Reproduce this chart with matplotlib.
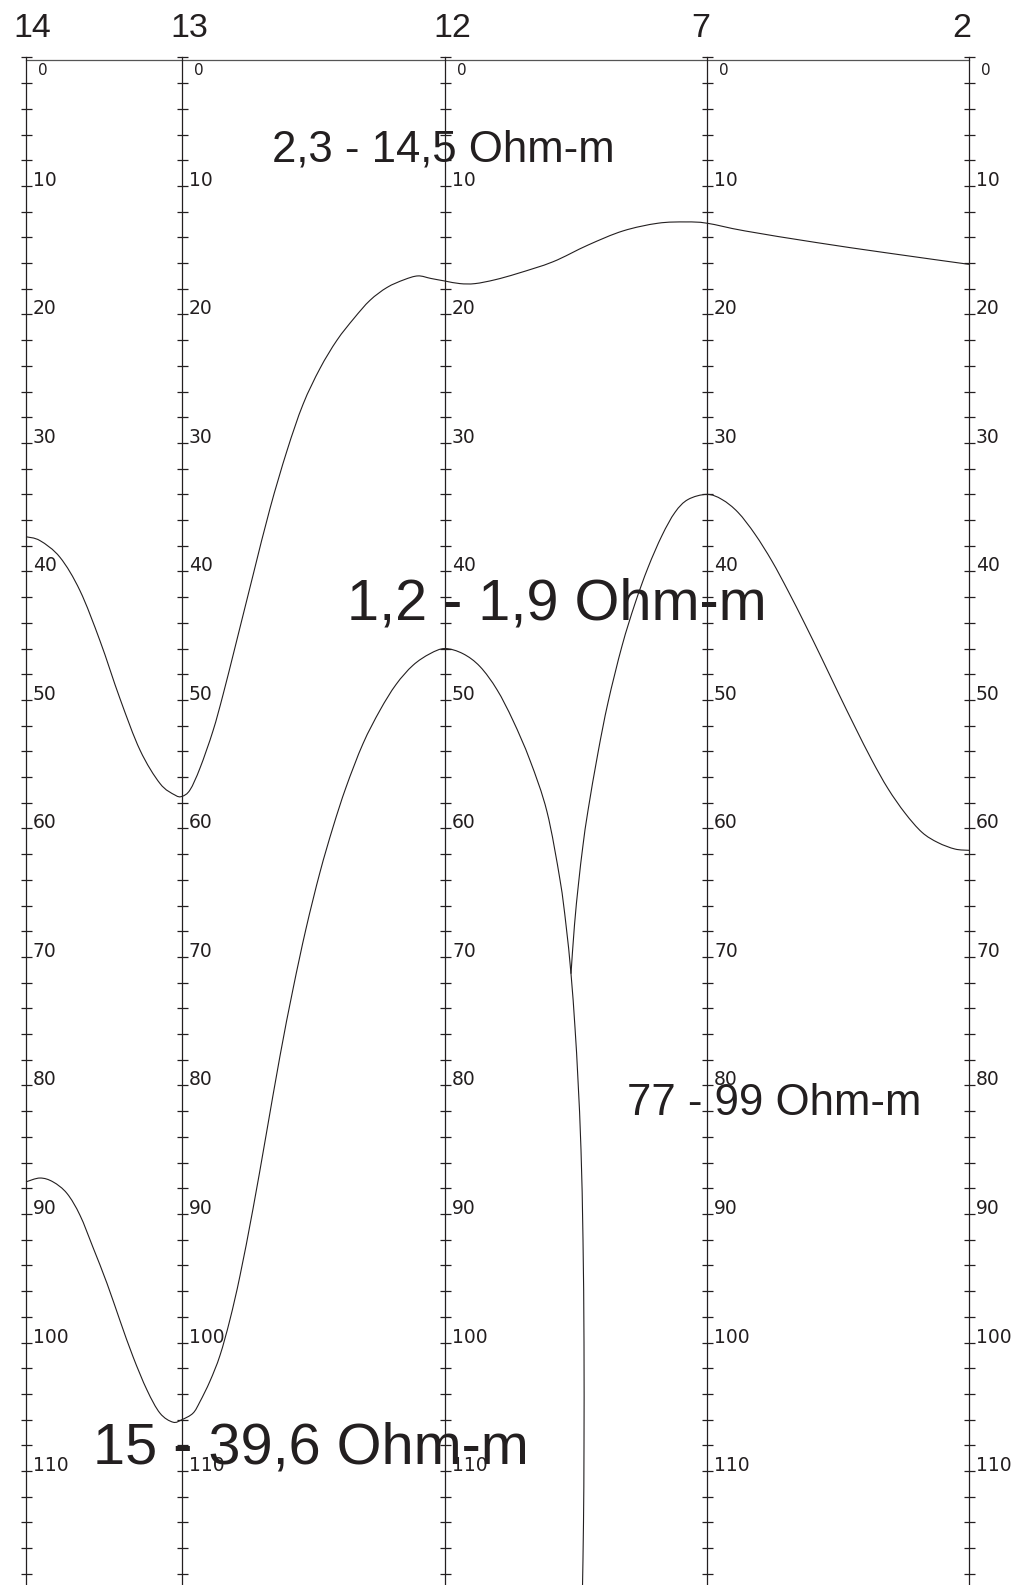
import numpy as np
import matplotlib
matplotlib.use("Agg")
import matplotlib.pyplot as plt
from matplotlib.path import Path
from matplotlib.patches import PathPatch

# boreholes along the profile (distance from borehole 14)
wells = ["14", "13", "12", "7", "2"]
well_dist = [0, 156, 419, 681, 943]
name_shift = [6, 7, 7, -6, -7]

# base of the 2,3 - 14,5 Ohm-m layer
top_x = [0, 14, 34, 54, 74, 94, 114, 134, 149, 156, 164, 174, 187, 197, 210,
         227, 244, 261, 277, 294, 311, 328, 344, 361, 378, 392, 405, 419, 434,
         449, 469, 492, 527, 562, 597, 632, 660, 681, 719, 790, 860, 943]
top_z = [37.3, 37.6, 38.9, 41.5, 45.4, 49.9, 53.9, 56.5, 57.4, 57.5, 57.0, 55.3,
         52.4, 49.6, 45.6, 40.3, 35.1, 30.6, 27.0, 24.2, 22.0, 20.3, 18.9, 17.9,
         17.3, 17.0, 17.2, 17.4, 17.6, 17.6, 17.3, 16.8, 15.9, 14.6, 13.5, 12.9,
         12.8, 12.9, 13.5, 14.4, 15.2, 16.1]

# top of the 15 - 39,6 Ohm-m layer
low_x = [0, 14, 27, 41, 54, 67, 81, 94, 107, 121, 134, 147, 156, 167, 174, 184,
         194, 204, 214, 227, 240, 254, 267, 280, 294, 307, 320, 337, 354, 370,
         387, 404, 419, 437, 454, 471, 487, 504, 521, 534, 540, 545, 549, 552,
         555, 557, 558, 558, 557.5, 556.5]
low_z = [87.5, 87.2, 87.5, 88.4, 90.1, 92.6, 95.4, 98.3, 101.1, 103.7, 105.5,
         106.2, 106.0, 105.5, 104.6, 103.0, 101.0, 98.2, 94.8, 89.6, 83.9, 77.7,
         72.5, 67.8, 63.4, 59.9, 56.8, 53.4, 50.8, 48.8, 47.3, 46.4, 46.0, 46.4,
         47.4, 49.2, 51.6, 54.7, 58.7, 64.0, 67.5, 71.3, 75.5, 79.6, 85.0, 92.0,
         100.0, 108.0, 114.0, 119.0]

# top of the 77 - 99 Ohm-m layer
east_x = [545, 548.5, 552.5, 557, 562, 572, 582, 596, 609, 622, 636, 649, 662,
          681, 696, 712, 729, 746, 762, 779, 796, 812, 829, 846, 862, 879, 896,
          912, 929, 943]
east_z = [71.3, 67.5, 64.3, 61.3, 58.6, 54.1, 50.2, 45.8, 42.5, 39.7, 37.2,
          35.4, 34.4, 34.0, 34.4, 35.4, 37.1, 39.2, 41.5, 44.1, 46.8, 49.4, 52.1,
          54.7, 56.9, 58.8, 60.3, 61.1, 61.6, 61.7]

depth_ticks = np.arange(0, 119, 2)
depth_labels = np.arange(10, 111, 10)

ink = "#231f20"


def smooth_path(xs, zs):
    # bezier path through the points (catmull-rom handles)
    p = np.column_stack([xs, zs]).astype(float)
    verts = [p[0]]
    codes = [Path.MOVETO]
    n = len(p)
    for i in range(n - 1):
        p0 = p[i - 1] if i > 0 else p[i]
        p3 = p[i + 2] if i + 2 < n else p[i + 1]
        c1 = p[i] + (p[i + 1] - p0) / 6.0
        c2 = p[i + 1] - (p3 - p[i]) / 6.0
        verts += [c1, c2, p[i + 1]]
        codes += [Path.CURVE4] * 3
    return Path(verts, codes)


fig = plt.figure(figsize=(10.33, 15.85), dpi=100)
ax = fig.add_axes([0, 0, 1, 1])
ax.set_xlim(-26, 1007)
ax.set_ylim(118.87, -4.47)
ax.axis("off")

# ground line
ax.plot([well_dist[0], well_dist[-1]], [0.17, 0.17], color="#555555", lw=0.9)

for name, w, dx in zip(wells, well_dist, name_shift):
    ax.plot([w, w], [-0.05, 119], color=ink, lw=0.9)
    ax.hlines(depth_ticks, w - 5, w + 5.5, color=ink, lw=0.9)
    for d in depth_labels:
        ax.text(w + 7, d, str(d), fontsize=13.5, color=ink,
                family="DejaVu Sans", ha="left", va="baseline")
    ax.text(w + 12, 0.4, "0", fontsize=11, color=ink,
            family="DejaVu Sans", ha="left", va="top")
    ax.text(w + dx, -1.6, name, fontsize=24.5, color=ink,
            family="Liberation Sans", ha="center", va="baseline")

for xs, zs in [(top_x, top_z), (low_x, low_z), (east_x, east_z)]:
    ax.add_patch(PathPatch(smooth_path(xs, zs), fill=False, edgecolor=ink, lw=0.8))

ax.text(417, 8.1, "2,3 - 14,5 Ohm-m", fontsize=31.5, color=ink,
        family="Liberation Sans", ha="center", va="baseline")
ax.text(531, 43.7, "1,2 - 1,9 Ohm-m", fontsize=41.5, color=ink,
        family="Liberation Sans", ha="center", va="baseline")
ax.text(748, 82.3, "77 - 99 Ohm-m", fontsize=31.5, color=ink,
        family="Liberation Sans", ha="center", va="baseline")
ax.text(285, 109.4, "15 - 39,6 Ohm-m", fontsize=41.5, color=ink,
        family="Liberation Sans", ha="center", va="baseline")

fig.savefig("out.png", dpi=100)
